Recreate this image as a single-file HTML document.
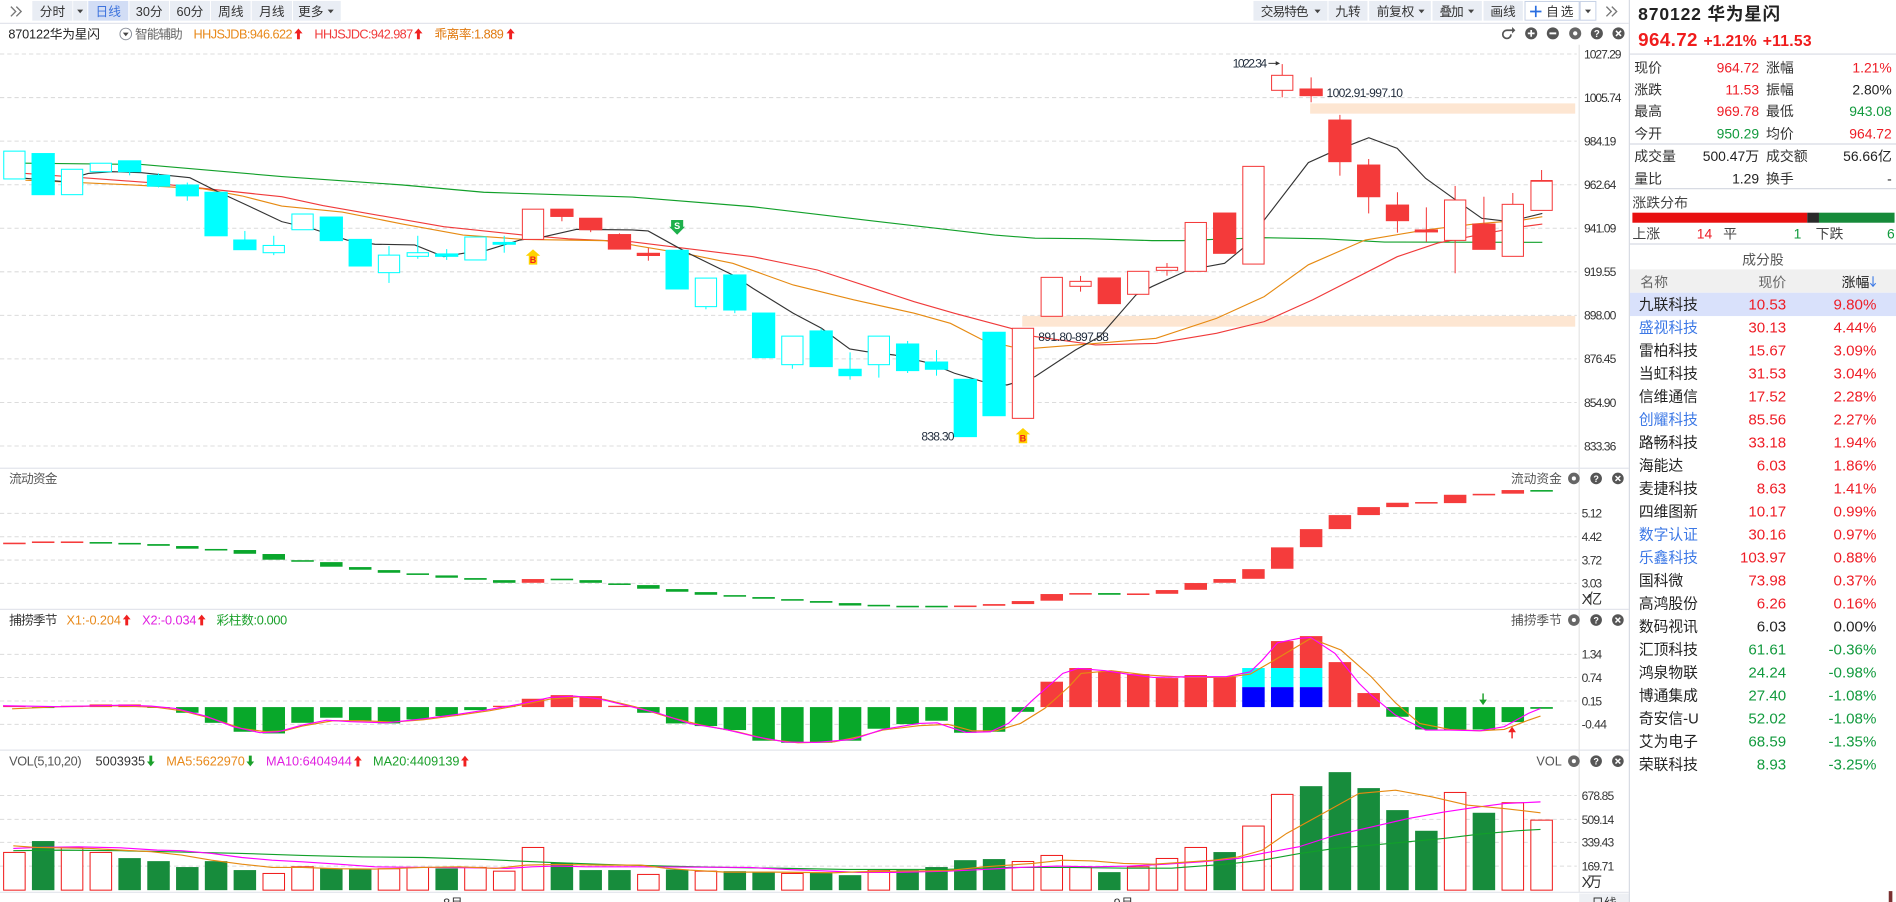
<!DOCTYPE html>
<html><head><meta charset="utf-8">
<style>
html,body{margin:0;padding:0;background:#fff;overflow:hidden;width:1896px;height:902px}
svg{display:block}
text{font-family:"Liberation Sans","Noto Sans CJK SC",sans-serif}
</style></head>
<body>
<svg width="1896" height="902" viewBox="0 0 1568 746" preserveAspectRatio="none" xmlns="http://www.w3.org/2000/svg">
<rect x="0" y="0" width="1568" height="746" fill="#fff"/>

<!-- ===== TOOLBAR ===== -->
<g font-size="10.5" fill="#333" text-anchor="middle">
<polyline points="9,5.5 13,9.5 9,13.5" fill="none" stroke="#777" stroke-width="1.1"/>
<polyline points="13.5,5.5 17.5,9.5 13.5,13.5" fill="none" stroke="#777" stroke-width="1.1"/>
<rect x="26.7" y="0.8" width="33.2" height="16.3" fill="#e9edf4"/>
<text x="43.4" y="13.4">分时</text>
<rect x="60.5" y="0.8" width="11.7" height="16.3" fill="#e9edf4"/>
<polygon points="63.8,8 68.8,8 66.3,11" fill="#444"/>
<rect x="73" y="0.8" width="33.1" height="16.3" fill="#d2ddf5"/>
<text x="89.5" y="13.4" fill="#3d73dd">日线</text>
<rect x="107" y="0.8" width="32.8" height="16.3" fill="#e9edf4"/>
<text x="123.4" y="13.4">30分</text>
<rect x="140.6" y="0.8" width="33.1" height="16.3" fill="#e9edf4"/>
<text x="157.1" y="13.4">60分</text>
<rect x="174.5" y="0.8" width="32.8" height="16.3" fill="#e9edf4"/>
<text x="190.9" y="13.4">周线</text>
<rect x="208.2" y="0.8" width="33.3" height="16.3" fill="#e9edf4"/>
<text x="224.8" y="13.4">月线</text>
<rect x="242.3" y="0.8" width="39.5" height="16.3" fill="#e9edf4"/>
<text x="257" y="13.4">更多</text>
<polygon points="271,8 276,8 273.5,11" fill="#444"/>

<rect x="1036.6" y="0.8" width="61.2" height="16.3" fill="#e9edf4"/>
<text x="1042.7" y="13.4" text-anchor="start" textLength="39.4">交易特色</text>
<polygon points="1087.1,8 1092.1,8 1089.6,11" fill="#444"/>
<rect x="1098.7" y="0.8" width="32.2" height="16.3" fill="#e9edf4"/>
<text x="1114.8" y="13.4">九转</text>
<rect x="1132.3" y="0.8" width="51" height="16.3" fill="#e9edf4"/>
<text x="1138.6" y="13.4" text-anchor="start" textLength="31">前复权</text>
<polygon points="1173.1,8 1178.1,8 1175.6,11" fill="#444"/>
<rect x="1184.7" y="0.8" width="40.8" height="16.3" fill="#e9edf4"/>
<text x="1190.5" y="13.4" text-anchor="start" textLength="20">叠加</text>
<polygon points="1214.1,8 1219.1,8 1216.6,11" fill="#444"/>
<rect x="1226.9" y="0.8" width="32.5" height="16.3" fill="#e9edf4"/>
<text x="1243" y="13.4">画线</text>
<rect x="1261.2" y="1.2" width="44.8" height="15.5" fill="#fff" stroke="#c5d0e5" stroke-width="0.8"/>
<path d="M1270.1 4.8 V14.2 M1265.4 9.5 H1274.8" stroke="#2a6ee0" stroke-width="1.4"/>
<text x="1278.7" y="13.4" text-anchor="start" textLength="22.6">自选</text>
<rect x="1306.8" y="1.2" width="13" height="15.5" fill="#fff" stroke="#c5d0e5" stroke-width="0.8"/>
<polygon points="1310.8,8 1315.8,8 1313.3,11" fill="#444"/>
<polyline points="1328.5,5.5 1332.5,9.5 1328.5,13.5" fill="none" stroke="#777" stroke-width="1.1"/>
<polyline points="1333,5.5 1337,9.5 1333,13.5" fill="none" stroke="#777" stroke-width="1.1"/>
</g>
<line x1="0" y1="19.3" x2="1347" y2="19.3" stroke="#e3e5ec" stroke-width="1"/>

<!-- ===== INFO LINE ===== -->
<g font-size="10.5">
<text x="6.9" y="31.8" fill="#222" textLength="75.8">870122华为星闪</text>
<circle cx="104" cy="28.1" r="4.8" fill="none" stroke="#8a8f99" stroke-width="0.8"/>
<polygon points="101.6,27 106.4,27 104,30" fill="#444"/>
<text x="111.7" y="31.8" fill="#666" textLength="39.4">智能辅助</text>
<text x="160" y="31.8" fill="#e8891a" textLength="82">HHJSJDB:946.622</text>
<polygon points="246.8,23.6 250.2,27.6 248,27.6 248,32.5 245.6,32.5 245.6,27.6 243.4,27.6" fill="#f02020"/>
<text x="260" y="31.8" fill="#f03a3a" textLength="81.7">HHJSJDC:942.987</text>
<polygon points="346,23.6 349.4,27.6 347.2,27.6 347.2,32.5 344.8,32.5 344.8,27.6 342.6,27.6" fill="#f02020"/>
<text x="359.3" y="31.8" fill="#e07a10" textLength="57.4">乖离率:1.889</text>
<polygon points="422.3,23.6 425.7,27.6 423.5,27.6 423.5,32.5 421.1,32.5 421.1,27.6 418.9,27.6" fill="#f02020"/>
</g>

<!-- main icons -->
<g>
<path d="M1250.8 25 H1246.2 A3.4 3.4 0 1 0 1249.6 28.4" fill="none" stroke="#555" stroke-width="1.4"/>
<polygon points="1250.5,22.3 1253.2,25 1250.5,27.7" fill="#555"/>
<circle cx="1266.3" cy="27.6" r="5" fill="#555"/><path d="M1266.3 24.8 V30.4 M1263.5 27.6 H1269.1" stroke="#fff" stroke-width="1.4"/>
<circle cx="1284.2" cy="27.6" r="5" fill="#555"/><path d="M1281.4 27.6 H1287" stroke="#fff" stroke-width="1.6"/>
<circle cx="1302.7" cy="27.6" r="5" fill="#666"/><circle cx="1302.7" cy="27.6" r="1.8" fill="#fff"/>
<circle cx="1320.6" cy="27.6" r="5" fill="#555"/><text x="1320.6" y="30.6" font-size="8" font-weight="bold" fill="#fff" text-anchor="middle">?</text>
<circle cx="1338.5" cy="27.6" r="5" fill="#555"/><path d="M1336.4 25.5 L1340.6 29.7 M1340.6 25.5 L1336.4 29.7" stroke="#fff" stroke-width="1.3"/>
</g>

<!-- ===== MAIN GRID ===== -->
<g stroke="#dcdcdc" stroke-width="0.85" stroke-dasharray="3.5 2.5">
<line x1="0" y1="44.7" x2="1304" y2="44.7"/>
<line x1="0" y1="80.7" x2="1304" y2="80.7"/>
<line x1="0" y1="116.7" x2="1304" y2="116.7"/>
<line x1="0" y1="152.8" x2="1304" y2="152.8"/>
<line x1="0" y1="188.8" x2="1304" y2="188.8"/>
<line x1="0" y1="224.8" x2="1304" y2="224.8"/>
<line x1="0" y1="260.8" x2="1304" y2="260.8"/>
<line x1="0" y1="296.8" x2="1304" y2="296.8"/>
<line x1="0" y1="332.9" x2="1304" y2="332.9"/>
<line x1="0" y1="368.9" x2="1304" y2="368.9"/>
<line x1="0" y1="424.6" x2="1304" y2="424.6"/>
<line x1="0" y1="443.9" x2="1304" y2="443.9"/>
<line x1="0" y1="463.2" x2="1304" y2="463.2"/>
<line x1="0" y1="482.5" x2="1304" y2="482.5"/>
<line x1="0" y1="541.2" x2="1304" y2="541.2"/>
<line x1="0" y1="560.3" x2="1304" y2="560.3"/>
<line x1="0" y1="579.8" x2="1304" y2="579.8"/>
<line x1="0" y1="599.1" x2="1304" y2="599.1"/>
<line x1="0" y1="657.9" x2="1304" y2="657.9"/>
<line x1="0" y1="677.7" x2="1304" y2="677.7"/>
<line x1="0" y1="696.7" x2="1304" y2="696.7"/>
<line x1="0" y1="716.3" x2="1304" y2="716.3"/>
</g>

<!-- price axis -->
<line x1="1306" y1="37" x2="1306" y2="738" stroke="#e2e2e2" stroke-width="0.9"/>
<g font-size="10" fill="#333">
<text x="1310" y="48.3" textLength="31">1027.29</text>
<text x="1310" y="84.3" textLength="31">1005.74</text>
<text x="1310" y="120.3" textLength="26.7">984.19</text>
<text x="1310" y="156.4" textLength="26.7">962.64</text>
<text x="1310" y="192.4" textLength="26.7">941.09</text>
<text x="1310" y="228.4" textLength="26.7">919.55</text>
<text x="1310" y="264.4" textLength="26.7">898.00</text>
<text x="1310" y="300.4" textLength="26.7">876.45</text>
<text x="1310" y="336.5" textLength="26.7">854.90</text>
<text x="1310" y="372.5" textLength="26.7">833.36</text>
<text x="1308" y="428.2" textLength="17">5.12</text>
<text x="1308" y="447.5" textLength="17">4.42</text>
<text x="1308" y="466.8" textLength="17">3.72</text>
<text x="1308" y="486.1" textLength="17">3.03</text>
<text x="1308" y="499.5" font-size="12" textLength="17">X亿</text>
<text x="1308" y="544.8" textLength="17">1.34</text>
<text x="1308" y="563.9" textLength="17">0.74</text>
<text x="1308" y="583.4" textLength="17">0.15</text>
<text x="1308" y="602.7" textLength="21">-0.44</text>
<text x="1308" y="661.5" textLength="27">678.85</text>
<text x="1308" y="681.3" textLength="27">509.14</text>
<text x="1308" y="700.3" textLength="27">339.43</text>
<text x="1308" y="719.9" textLength="27">169.71</text>
<text x="1308" y="733.8" font-size="12" textLength="17">X万</text>
</g>

<!-- bands -->
<rect x="1083.5" y="85.5" width="219.2" height="8.5" fill="#fde6d2"/>
<rect x="845.4" y="261.3" width="457.3" height="8.9" fill="#fde6d2"/>

<!-- MA lines -->
<g fill="none" stroke-width="0.95">
<polyline stroke="#12a02a" points="21,135 117,136 233,146 333,153 400,159 523,163 622.7,171 722.7,182.8 822.7,194.4 856,197 899,197.4 952.7,199 977.7,199 1002.7,198 1045,196.6 1095,197.5 1145,200.2 1275.5,200.4"/>
<polyline stroke="#f03a3a" points="21,143.4 123,151 233,162.7 267,170 367,187.5 433,194.4 470,197.5 523,200 622.7,212.3 676,223.3 756,249.5 789.4,259.1 836,271.5 856,278.4 906,285.3 956,284 1006,275.7 1045.5,266 1085.5,248 1155.5,212.3 1189,201 1229,193 1259,187.5 1275.5,185.3"/>
<polyline stroke="#e68a12" points="21,149 100,152.5 167,156 200,162 233,170.4 283,175.4 333,185.3 383,194.4 433,198 500,199 523,202.6 572.7,210.9 606,217.8 656,235.7 706,248 756,259 786,267.4 812.7,281.2 836,286.7 856,288 906,284 956,279.8 1006,263.3 1045.5,245.3 1082,219 1129,198.5 1179,190.2 1219,185.3 1259,182 1275.5,179.2"/>
<polyline stroke="#333" points="21,147.5 50,150 73,143.4 93,142 117,142.8 157,147 180,158.5 207,171 233,183.3 260,189.7 287,198.5 310,202 343,202.6 367,212.3 383,209.5 403,206.8 430,198.5 450,195.8 477,189.7 523,190.2 536,191 569.4,209.5 606,227.4 622.7,238.5 656,259.1 679.4,271.5 702.7,288.6 716,290.8 739.4,293.6 769.4,300.5 789.4,308.7 812.7,315.6 832.7,318.4 856,311.5 889.4,289.5 909.4,278.4 939.4,244 952.7,237 982.7,223.3 1012.7,217.8 1029.4,204 1045.5,182 1082,134.5 1099,126.8 1132,113.9 1155.5,122.7 1179,147.5 1202,164 1225.5,180.6 1242,182.5 1259,180.6 1275.5,176.5"/>
</g>

<!-- candles filled cyan -->
<g fill="#00ffff" stroke="#00ffff" stroke-width="0.85">
<rect x="26.5" y="127" width="18.4" height="34"/>
<line x1="107.2" y1="133" x2="107.2" y2="145"/><rect x="98.0" y="133" width="18.4" height="9"/>
<line x1="131.1" y1="143.4" x2="131.1" y2="155"/><rect x="121.9" y="145" width="18.4" height="9"/>
<line x1="154.9" y1="151" x2="154.9" y2="166"/><rect x="145.7" y="153" width="18.4" height="9"/>
<rect x="169.5" y="159" width="18.4" height="36"/>
<line x1="202.5" y1="191" x2="202.5" y2="206.5"/><rect x="193.3" y="198.5" width="18.4" height="8"/>
<rect x="264.8" y="179.5" width="18.4" height="19.5"/>
<rect x="288.7" y="198" width="18.4" height="22"/>
<line x1="369.4" y1="206" x2="369.4" y2="215"/><rect x="360.2" y="210" width="18.4" height="2"/>
<line x1="417.0" y1="195" x2="417.0" y2="209"/><rect x="407.8" y="200.5" width="18.4" height="1.5"/>
<rect x="550.8" y="207" width="18.4" height="32"/>
<line x1="607.7" y1="227.4" x2="607.7" y2="259"/><rect x="598.5" y="227.4" width="18.4" height="29"/>
<rect x="622.3" y="258.9" width="18.4" height="36.9"/>
<line x1="679.1" y1="271.8" x2="679.1" y2="303.2"/><rect x="669.9" y="273.7" width="18.4" height="29.5"/>
<line x1="703.0" y1="291.4" x2="703.0" y2="314"/><rect x="693.8" y="305.4" width="18.4" height="5.3"/>
<line x1="750.6" y1="282" x2="750.6" y2="308.5"/><rect x="741.4" y="284.5" width="18.4" height="22"/>
<line x1="774.5" y1="289.5" x2="774.5" y2="310.7"/><rect x="765.3" y="299.4" width="18.4" height="6"/>
<rect x="789.1" y="313.7" width="18.4" height="47.4"/>
<rect x="812.9" y="274.8" width="18.4" height="69"/>
</g>
<!-- candles hollow cyan -->
<g fill="#fff" stroke="#00ffff" stroke-width="0.85">
<rect x="3.1" y="125" width="17.6" height="23"/>
<rect x="50.8" y="140" width="17.6" height="21"/>
<rect x="74.6" y="135" width="17.6" height="7"/>
<line x1="226.4" y1="195" x2="226.4" y2="211"/><rect x="217.6" y="203" width="17.6" height="6"/>
<rect x="241.4" y="177" width="17.6" height="13"/>
<line x1="321.7" y1="203.5" x2="321.7" y2="234"/><rect x="312.9" y="211" width="17.6" height="14.5"/>
<line x1="345.5" y1="195" x2="345.5" y2="214"/><rect x="336.7" y="209" width="17.6" height="3"/>
<rect x="384.4" y="196" width="17.6" height="19"/>
<line x1="583.8" y1="230" x2="583.8" y2="255.8"/><rect x="575.0" y="230" width="17.6" height="23.6"/>
<line x1="655.3" y1="278" x2="655.3" y2="305"/><rect x="646.5" y="278" width="17.6" height="23.6"/>
<line x1="726.8" y1="278" x2="726.8" y2="312.3"/><rect x="718.0" y="278" width="17.6" height="23.6"/>
</g>
<!-- candles filled red -->
<g fill="#f43a3a" stroke="#f43a3a" stroke-width="0.85">
<line x1="464.7" y1="173" x2="464.7" y2="183"/><rect x="455.5" y="173" width="18.4" height="6"/>
<line x1="488.5" y1="180.5" x2="488.5" y2="192"/><rect x="479.3" y="180.5" width="18.4" height="9.5"/>
<line x1="512.3" y1="193" x2="512.3" y2="206"/><rect x="503.1" y="194" width="18.4" height="12"/>
<line x1="536.2" y1="205" x2="536.2" y2="215.6"/><rect x="527.0" y="209.5" width="18.4" height="1.8"/>
<rect x="908.2" y="229.9" width="18.4" height="21.2"/>
<rect x="1003.6" y="176.2" width="18.4" height="33.3"/>
<line x1="1084.3" y1="64" x2="1084.3" y2="84.6"/><rect x="1075.1" y="73.6" width="18.4" height="5.5"/>
<line x1="1108.1" y1="95" x2="1108.1" y2="145.3"/><rect x="1098.9" y="99.3" width="18.4" height="34.4"/>
<line x1="1131.9" y1="131.5" x2="1131.9" y2="176.5"/><rect x="1122.7" y="136.5" width="18.4" height="26.2"/>
<line x1="1155.7" y1="159" x2="1155.7" y2="192.4"/><rect x="1146.5" y="169.6" width="18.4" height="12.9"/>
<line x1="1179.6" y1="171.5" x2="1179.6" y2="200"/><rect x="1170.4" y="190.2" width="18.4" height="1.6"/>
<line x1="1227.2" y1="162.7" x2="1227.2" y2="206.2"/><rect x="1218.0" y="185.3" width="18.4" height="20.9"/>
</g>
<!-- candles hollow red -->
<g fill="#fff" stroke="#f43a3a" stroke-width="0.85">
<rect x="432.0" y="173" width="17.6" height="25"/>
<rect x="837.2" y="271.5" width="17.6" height="74.5"/>
<rect x="861.0" y="229.4" width="17.6" height="32.2"/>
<line x1="893.6" y1="228.2" x2="893.6" y2="241.2"/><rect x="884.8" y="232.7" width="17.6" height="4.1"/>
<rect x="932.5" y="224.4" width="17.6" height="19"/>
<line x1="965.1" y1="217.5" x2="965.1" y2="228"/><rect x="956.3" y="221.1" width="17.6" height="2.5"/>
<rect x="980.1" y="184" width="17.6" height="40.4"/>
<rect x="1027.8" y="137.6" width="17.6" height="80.8"/>
<line x1="1060.4" y1="53" x2="1060.4" y2="80.5"/><rect x="1051.6" y="62.3" width="17.6" height="12.4"/>
<line x1="1203.4" y1="153.8" x2="1203.4" y2="226"/><rect x="1194.6" y="165.4" width="17.6" height="33.4"/>
<line x1="1251.1" y1="159.6" x2="1251.1" y2="212"/><rect x="1242.3" y="169" width="17.6" height="43"/>
<line x1="1274.9" y1="140.6" x2="1274.9" y2="174"/><rect x="1266.1" y="149.4" width="17.6" height="24.6"/>
</g>
<line x1="1266.1" y1="149.6" x2="1283.7" y2="149.6" stroke="#f43a3a" stroke-width="1.4"/>

<!-- markers -->
<polygon points="440.8,206.2 446.8,211.5 444.3,211.5 444.3,218.9 437.3,218.9 437.3,211.5 434.8,211.5" fill="#ffd200"/>
<text x="440.8" y="217.6" font-size="7.5" font-weight="bold" fill="#f02020" text-anchor="middle">B</text>
<polygon points="846,354 852,359.3 849.5,359.3 849.5,366.6 842.5,366.6 842.5,359.3 840,359.3" fill="#ffd200"/>
<text x="846" y="365.3" font-size="7.5" font-weight="bold" fill="#f02020" text-anchor="middle">B</text>
<polygon points="555,182 565,182 565,187.5 566.5,187.5 560,194.2 553.5,187.5 555,187.5" fill="#1db04b"/>
<text x="560" y="189.6" font-size="7.5" font-weight="bold" fill="#fff" text-anchor="middle">S</text>

<!-- annotations -->
<g font-size="10" fill="#1e2a3a">
<text x="1019.4" y="56" textLength="28.5">1022.34</text>
<text x="1097" y="80.4" textLength="63.3">1002.91-997.10</text>
<text x="762" y="364.2" textLength="27.4">838.30</text>
<text x="858.7" y="282" textLength="58.3">891.80-897.58</text>
</g>
<line x1="1049" y1="52.4" x2="1056" y2="52.4" stroke="#333" stroke-width="0.8"/>
<polygon points="1055,50.6 1058.6,52.4 1055,54.2" fill="#333"/>

<!-- panel separators -->
<g stroke="#e3e5ec" stroke-width="1">
<line x1="0" y1="387.3" x2="1347" y2="387.3"/>
<line x1="0" y1="504" x2="1347" y2="504"/>
<line x1="0" y1="620.4" x2="1347" y2="620.4"/>
<line x1="0" y1="738" x2="1347" y2="738"/>
</g>

<!-- ===== 流动资金 ===== -->
<text x="7.5" y="399.5" font-size="10.5" fill="#555" textLength="40">流动资金</text>
<g fill="#0aa62c">
<rect x="74.1" y="448.3" width="18.6" height="1.3"/>
<rect x="97.9" y="449" width="18.6" height="1.3"/>
<rect x="121.8" y="450" width="18.6" height="1.4"/>
<rect x="145.6" y="451.6" width="18.6" height="2.2"/>
<rect x="169.4" y="454" width="18.6" height="1.3"/>
<rect x="193.2" y="454.9" width="18.6" height="3.1"/>
<rect x="217.1" y="458.2" width="18.6" height="4.7"/>
<rect x="240.9" y="463.3" width="18.6" height="1.3"/>
<rect x="264.7" y="464.9" width="18.6" height="3.8"/>
<rect x="288.6" y="469" width="18.6" height="2.2"/>
<rect x="312.4" y="471.5" width="18.6" height="2.2"/>
<rect x="336.2" y="474.2" width="18.6" height="1.3"/>
<rect x="360.1" y="475.9" width="18.6" height="1.9"/>
<rect x="383.9" y="478.1" width="18.6" height="1.4"/>
<rect x="407.7" y="479.8" width="18.6" height="2.2"/>
<rect x="455.4" y="478.6" width="18.6" height="1.3"/>
<rect x="479.2" y="479.8" width="18.6" height="2.2"/>
<rect x="503.0" y="482.5" width="18.6" height="1.3"/>
<rect x="526.9" y="483.9" width="18.6" height="3"/>
<rect x="550.7" y="487.2" width="18.6" height="2.2"/>
<rect x="574.5" y="489.7" width="18.6" height="2.2"/>
<rect x="598.4" y="492.2" width="18.6" height="1.3"/>
<rect x="622.2" y="493.8" width="18.6" height="1.4"/>
<rect x="646.0" y="495.5" width="18.6" height="1.3"/>
<rect x="669.8" y="497.1" width="18.6" height="1.4"/>
<rect x="693.7" y="498.8" width="18.6" height="2"/>
<rect x="717.5" y="500.2" width="18.6" height="1.3"/>
<rect x="741.3" y="501" width="18.6" height="1.3"/>
<rect x="765.2" y="501" width="18.6" height="1.3"/>
<rect x="908.1" y="490.5" width="18.6" height="1.4"/>
<rect x="1265.6" y="405.3" width="18.6" height="1.3"/>
</g>
<g fill="#f53c3c">
<rect x="2.6" y="448.8" width="18.6" height="1.3"/>
<rect x="26.4" y="447.8" width="18.6" height="1.3"/>
<rect x="50.3" y="447.8" width="18.6" height="1.3"/>
<rect x="431.5" y="478.9" width="18.6" height="3.1"/>
<rect x="789.0" y="500.8" width="18.6" height="1.3"/>
<rect x="812.8" y="499.6" width="18.6" height="1.4"/>
<rect x="836.7" y="497.1" width="18.6" height="2.5"/>
<rect x="860.5" y="491.3" width="18.6" height="5.5"/>
<rect x="884.3" y="490.5" width="18.6" height="1.3"/>
<rect x="932.0" y="490.8" width="18.6" height="1.3"/>
<rect x="955.8" y="488" width="18.6" height="3.1"/>
<rect x="979.6" y="482.2" width="18.6" height="5.6"/>
<rect x="1003.5" y="478.9" width="18.6" height="3.1"/>
<rect x="1027.3" y="470.7" width="18.6" height="8"/>
<rect x="1051.1" y="452.7" width="18.6" height="17.7"/>
<rect x="1075.0" y="437.6" width="18.6" height="14.9"/>
<rect x="1098.8" y="426" width="18.6" height="11.6"/>
<rect x="1122.6" y="419.4" width="18.6" height="6.6"/>
<rect x="1146.4" y="415.8" width="18.6" height="3.6"/>
<rect x="1170.3" y="415.2" width="18.6" height="1.3"/>
<rect x="1194.1" y="409.2" width="18.6" height="6.9"/>
<rect x="1217.9" y="408.4" width="18.6" height="1.3"/>
<rect x="1241.8" y="405.3" width="18.6" height="3"/>
</g>

<!-- ===== 捕捞季节 ===== -->
<g font-size="10.5">
<text x="7.5" y="516.6" fill="#333" textLength="40">捕捞季节</text>
<text x="55" y="516.6" fill="#e8891a" textLength="45">X1:-0.204</text>
<polygon points="104.8,508.3 108,512.3 106,512.3 106,517.2 103.6,517.2 103.6,512.3 101.6,512.3" fill="#f02020"/>
<text x="117.5" y="516.6" fill="#e020e0" textLength="45">X2:-0.034</text>
<polygon points="166.8,508.3 170,512.3 168,512.3 168,517.2 165.6,517.2 165.6,512.3 163.6,512.3" fill="#f02020"/>
<text x="179" y="516.6" fill="#1aa02a" textLength="58.5">彩柱数:0.000</text>
</g>
<g fill="#08a82a">
<rect x="26.4" y="584.8" width="18.6" height="0.8"/>
<rect x="121.8" y="584.8" width="18.6" height="0.7"/>
<rect x="145.6" y="584.8" width="18.6" height="4.7"/>
<rect x="169.4" y="584.8" width="18.6" height="13"/>
<rect x="193.2" y="584.8" width="18.6" height="20.4"/>
<rect x="217.1" y="584.8" width="18.6" height="21.8"/>
<rect x="240.9" y="584.8" width="18.6" height="13"/>
<rect x="264.7" y="584.8" width="18.6" height="8.8"/>
<rect x="288.6" y="584.8" width="18.6" height="11.3"/>
<rect x="312.4" y="584.8" width="18.6" height="13.5"/>
<rect x="336.2" y="584.8" width="18.6" height="10.2"/>
<rect x="360.1" y="584.8" width="18.6" height="7.4"/>
<rect x="383.9" y="584.8" width="18.6" height="2.5"/>
<rect x="526.9" y="584.8" width="18.6" height="4.7"/>
<rect x="550.7" y="584.8" width="18.6" height="13.5"/>
<rect x="574.5" y="584.8" width="18.6" height="15.7"/>
<rect x="598.4" y="584.8" width="18.6" height="19"/>
<rect x="622.2" y="584.8" width="18.6" height="27.8"/>
<rect x="646.0" y="584.8" width="18.6" height="29.5"/>
<rect x="669.8" y="584.8" width="18.6" height="29.5"/>
<rect x="693.7" y="584.8" width="18.6" height="27.8"/>
<rect x="717.5" y="584.8" width="18.6" height="17.9"/>
<rect x="741.3" y="584.8" width="18.6" height="14.1"/>
<rect x="765.2" y="584.8" width="18.6" height="11.3"/>
<rect x="789.0" y="584.8" width="18.6" height="21.2"/>
<rect x="812.8" y="584.8" width="18.6" height="20.4"/>
<rect x="836.7" y="584.8" width="18.6" height="3.9"/>
<rect x="1146.4" y="584.8" width="18.6" height="8"/>
<rect x="1170.3" y="584.8" width="18.6" height="18.5"/>
<rect x="1194.1" y="584.8" width="18.6" height="18.5"/>
<rect x="1217.9" y="584.8" width="18.6" height="18.5"/>
<rect x="1241.8" y="584.8" width="18.6" height="12.4"/>
<rect x="1265.6" y="584.8" width="18.6" height="1.4"/>
</g>
<g fill="#f53c3c">
<rect x="2.6" y="583.7" width="18.6" height="1.1"/>
<rect x="50.3" y="583.7" width="18.6" height="1.1"/>
<rect x="74.1" y="582.6" width="18.6" height="2.2"/>
<rect x="97.9" y="582.6" width="18.6" height="2.2"/>
<rect x="407.7" y="583.7" width="18.6" height="1.1"/>
<rect x="431.5" y="577.9" width="18.6" height="6.9"/>
<rect x="455.4" y="574.9" width="18.6" height="9.9"/>
<rect x="479.2" y="575.7" width="18.6" height="9.1"/>
<rect x="503.0" y="583.7" width="18.6" height="1.1"/>
<rect x="860.5" y="563.8" width="18.6" height="21"/>
<rect x="884.3" y="552.5" width="18.6" height="32.3"/>
<rect x="908.1" y="555.3" width="18.6" height="29.5"/>
<rect x="932.0" y="557.5" width="18.6" height="27.3"/>
<rect x="955.8" y="560.8" width="18.6" height="24"/>
<rect x="979.6" y="558.3" width="18.6" height="26.5"/>
<rect x="1003.5" y="559.7" width="18.6" height="25.1"/>
<rect x="1051.1" y="530.2" width="18.6" height="22.3"/>
<rect x="1075.0" y="526.1" width="18.6" height="26.4"/>
<rect x="1098.8" y="547.6" width="18.6" height="37.2"/>
<rect x="1122.6" y="573.2" width="18.6" height="11.6"/>
</g>
<g fill="#00ffff">
<rect x="1027.3" y="552.5" width="18.6" height="15.8"/>
<rect x="1051.1" y="552.5" width="18.6" height="15.8"/>
<rect x="1075.0" y="552.5" width="18.6" height="15.8"/>
</g>
<g fill="#0000ff">
<rect x="1027.3" y="568.3" width="18.6" height="16.5"/>
<rect x="1051.1" y="568.3" width="18.6" height="16.5"/>
<rect x="1075.0" y="568.3" width="18.6" height="16.5"/>
</g>
<g fill="none" stroke-width="0.95">
<polyline stroke="#e68a12" points="10,586.2 50,584.5 100,583.7 130,585.1 150,587.8 175,594.2 200,602.5 220,605.2 235,604.4 250,600.5 275,596.1 300,596.1 325,597.2 350,595.3 380,591.4 405,587.8 430,583.2 455,578.2 480,576.3 500,578.5 525,584.5 550,592.2 580,599.7 610,605.2 635,611.5 660,614.3 690,613.5 710,609.3 730,603.8 760,600.2 784,599.1 804,604.4 824,604.4 844,598.3 864,585.9 884,568 894,557 919,554.7 949,558.3 984,560.3 1014,560.3 1034,557.5 1054,545.9 1084,528 1109,537.6 1134,559.7 1154,581.2 1174,598.3 1199,603.3 1224,604.4 1244,603.3 1264,595.6 1274,592.2"/>
<polyline stroke="#ff00ff" points="2.5,583.7 50,584.5 100,583.2 125,584 145,585.9 170,592.2 193,601 215,606 230,605.2 250,599.7 270,595.6 290,596.9 320,597.8 350,594.5 380,590.6 405,586.7 430,582.3 455,576.8 475,575.7 495,577.9 520,584 545,590 570,598.3 600,603.3 625,609.3 650,613.7 675,614 705,611.5 730,603.3 760,598.3 775,597.8 784,601 799,605.8 819,605.2 834,598.3 854,579 879,556.9 891.5,552.8 914,554.7 934,557.8 954,560.3 984,559.7 1014,559.7 1034,555.6 1044,545.9 1056.5,531.6 1074,528 1084,527.2 1104,540.4 1124,565.2 1134,574.9 1154,591.4 1179,603.8 1199,603.8 1224,604.4 1244,601 1264,590 1274,585.9"/>
</g>
<line x1="1226.5" y1="573.5" x2="1226.5" y2="580" stroke="#1aa02a" stroke-width="1.2"/>
<polygon points="1223.3,578.6 1229.7,578.6 1226.5,583.2" fill="#1aa02a"/>
<line x1="1250.5" y1="604.5" x2="1250.5" y2="610.7" stroke="#f02020" stroke-width="1.2"/>
<polygon points="1247.3,605.6 1253.7,605.6 1250.5,601" fill="#f02020"/>

<!-- ===== VOL ===== -->
<g font-size="10.5">
<text x="7.5" y="633.3" fill="#555" textLength="60">VOL(5,10,20)</text>
<text x="79" y="633.3" fill="#333" textLength="41">5003935</text>
<polygon points="124.7,633.8 127.9,629.8 125.9,629.8 125.9,624.9 123.5,624.9 123.5,629.8 121.5,629.8" fill="#1aa02a"/>
<text x="137.5" y="633.3" fill="#e8891a" textLength="65">MA5:5622970</text>
<polygon points="207,633.8 210.2,629.8 208.2,629.8 208.2,624.9 205.8,624.9 205.8,629.8 203.8,629.8" fill="#1aa02a"/>
<text x="220" y="633.3" fill="#e020e0" textLength="71">MA10:6404944</text>
<polygon points="296,625 299.2,629 297.2,629 297.2,633.9 294.8,633.9 294.8,629 292.8,629" fill="#f02020"/>
<text x="308.5" y="633.3" fill="#1aa02a" textLength="71.5">MA20:4409139</text>
<polygon points="384.5,625 387.7,629 385.7,629 385.7,633.9 383.3,633.9 383.3,629 381.3,629" fill="#f02020"/>
</g>
<g fill="#178c3c">
<rect x="26.4" y="695.6" width="18.6" height="40.6"/>
<rect x="97.9" y="709.7" width="18.6" height="26.5"/>
<rect x="121.8" y="712.2" width="18.6" height="24"/>
<rect x="145.6" y="717.1" width="18.6" height="19.1"/>
<rect x="169.4" y="712.2" width="18.6" height="24"/>
<rect x="193.2" y="719.6" width="18.6" height="16.6"/>
<rect x="264.7" y="718.2" width="18.6" height="18"/>
<rect x="288.6" y="719.1" width="18.6" height="17.1"/>
<rect x="360.1" y="718.2" width="18.6" height="18"/>
<rect x="455.4" y="713.6" width="18.6" height="22.6"/>
<rect x="479.2" y="719.6" width="18.6" height="16.6"/>
<rect x="503.0" y="719.6" width="18.6" height="16.6"/>
<rect x="550.7" y="719.1" width="18.6" height="17.1"/>
<rect x="598.4" y="720.5" width="18.6" height="15.7"/>
<rect x="622.2" y="721" width="18.6" height="15.2"/>
<rect x="669.8" y="721.5" width="18.6" height="14.7"/>
<rect x="693.7" y="723.8" width="18.6" height="12.4"/>
<rect x="741.3" y="719.6" width="18.6" height="16.6"/>
<rect x="765.2" y="717.1" width="18.6" height="19.1"/>
<rect x="789.0" y="711.4" width="18.6" height="24.8"/>
<rect x="812.8" y="710.5" width="18.6" height="25.7"/>
<rect x="908.1" y="721.3" width="18.6" height="14.9"/>
<rect x="1003.5" y="704.7" width="18.6" height="31.5"/>
<rect x="1075.0" y="650.2" width="18.6" height="86"/>
<rect x="1098.8" y="638.6" width="18.6" height="97.6"/>
<rect x="1122.6" y="651.8" width="18.6" height="84.4"/>
<rect x="1146.4" y="670" width="18.6" height="66.2"/>
<rect x="1170.3" y="687.1" width="18.6" height="49.1"/>
<rect x="1217.9" y="672.2" width="18.6" height="64"/>
</g>
<g fill="#fff" stroke="#f01c1c" stroke-width="0.85">
<rect x="3.0" y="705" width="17.8" height="31.2"/>
<rect x="50.7" y="700.9" width="17.8" height="35.3"/>
<rect x="74.5" y="705" width="17.8" height="31.2"/>
<rect x="217.5" y="722.4" width="17.8" height="13.8"/>
<rect x="241.3" y="716.9" width="17.8" height="19.3"/>
<rect x="312.8" y="718.5" width="17.8" height="17.7"/>
<rect x="336.6" y="717.4" width="17.8" height="18.8"/>
<rect x="384.3" y="717.4" width="17.8" height="18.8"/>
<rect x="408.1" y="720.5" width="17.8" height="15.7"/>
<rect x="431.9" y="700.9" width="17.8" height="35.3"/>
<rect x="527.3" y="723.2" width="17.8" height="13"/>
<rect x="574.9" y="720.5" width="17.8" height="15.7"/>
<rect x="646.4" y="722.4" width="17.8" height="13.8"/>
<rect x="717.9" y="719.6" width="17.8" height="16.6"/>
<rect x="837.1" y="712.5" width="17.8" height="23.7"/>
<rect x="860.9" y="707.5" width="17.8" height="28.7"/>
<rect x="884.7" y="716.9" width="17.8" height="19.3"/>
<rect x="932.4" y="716.9" width="17.8" height="19.3"/>
<rect x="956.2" y="710" width="17.8" height="26.2"/>
<rect x="980.0" y="700.9" width="17.8" height="35.3"/>
<rect x="1027.7" y="683.2" width="17.8" height="53"/>
<rect x="1051.5" y="657" width="17.8" height="79.2"/>
<rect x="1194.5" y="655.4" width="17.8" height="80.8"/>
<rect x="1242.2" y="663.9" width="17.8" height="72.3"/>
<rect x="1266.0" y="678.3" width="17.8" height="57.9"/>
</g>
<g fill="none" stroke-width="0.95">
<polyline stroke="#12a02a" points="11,703.6 50,703.1 100,703.6 150,704.7 200,705.8 250,707.5 300,708.7 350,709.2 400,710.8 450,713.1 500,714.9 550,716.3 600,717.4 650,718.2 700,719.1 784,719 834,717.4 884,717.4 934,718 969,718 984,716.9 1014,714.7 1044,711.4 1074,706 1104,701.7 1134,699 1164,696.2 1194,693.4 1224,689.8 1254,687.1 1274,686"/>
<polyline stroke="#ff00ff" points="11,701.7 30,700.9 65,700.4 100,701.2 130,703.1 150,703.6 175,705.8 200,709.2 225,711.4 250,712.8 280,714.7 310,716.9 350,717.4 390,717.7 420,718.2 440,716.9 460,716.3 485,716.9 520,716.9 620,717.4 650,719.1 680,720.2 710,721.5 740,721.5 784,720.5 814,719.1 844,717.4 874,716.3 904,716.9 934,716.3 964,714.7 994,712.8 1024,710 1044,705.8 1074,700.4 1104,690.8 1134,684 1164,677.1 1194,671.6 1219,667.9 1244,664.6 1274,663.2"/>
<polyline stroke="#e68a12" points="11,699.5 30,700.9 75,701.7 100,703.1 125,704.4 150,707.2 175,711.4 200,714.7 225,717.4 250,717.4 280,718.5 310,718.8 350,717.4 380,716.9 410,718.2 435,715.5 460,714.9 500,715.5 530,715.5 550,718 570,719.6 600,721.3 640,721.3 690,721.8 710,721 740,720.5 784,720 814,716.9 854,714.1 879,711.4 904,712 929,714.1 954,714.7 984,712.8 1004,711.4 1024,708.7 1044,703.1 1064,689.3 1094,672.8 1124,656.2 1154,653.5 1184,659 1214,665.9 1244,668.7 1274,672.2"/>
</g>

<!-- lower panel right headers -->
<g font-size="10.5" fill="#555" text-anchor="end">
<text x="1291.6" y="399.5">流动资金</text>
<text x="1291.6" y="516.6">捕捞季节</text>
<text x="1291.6" y="633.3">VOL</text>
</g>
<g>
<circle cx="1301.6" cy="395.7" r="4.8" fill="#666"/><circle cx="1301.6" cy="395.7" r="1.7" fill="#fff"/>
<circle cx="1320" cy="395.7" r="4.8" fill="#555"/><text x="1320" y="398.6" font-size="7.5" font-weight="bold" fill="#fff" text-anchor="middle">?</text>
<circle cx="1338" cy="395.7" r="4.8" fill="#555"/><path d="M1336 393.7 L1340 397.7 M1340 393.7 L1336 397.7" stroke="#fff" stroke-width="1.2"/>
<circle cx="1301.6" cy="512.8" r="4.8" fill="#666"/><circle cx="1301.6" cy="512.8" r="1.7" fill="#fff"/>
<circle cx="1320" cy="512.8" r="4.8" fill="#555"/><text x="1320" y="515.7" font-size="7.5" font-weight="bold" fill="#fff" text-anchor="middle">?</text>
<circle cx="1338" cy="512.8" r="4.8" fill="#555"/><path d="M1336 510.8 L1340 514.8 M1340 510.8 L1336 514.8" stroke="#fff" stroke-width="1.2"/>
<circle cx="1301.6" cy="629.5" r="4.8" fill="#666"/><circle cx="1301.6" cy="629.5" r="1.7" fill="#fff"/>
<circle cx="1320" cy="629.5" r="4.8" fill="#555"/><text x="1320" y="632.4" font-size="7.5" font-weight="bold" fill="#fff" text-anchor="middle">?</text>
<circle cx="1338" cy="629.5" r="4.8" fill="#555"/><path d="M1336 627.5 L1340 631.5 M1340 627.5 L1336 631.5" stroke="#fff" stroke-width="1.2"/>
</g>

<!-- bottom axis -->
<g font-size="10.5" fill="#333">
<text x="366.5" y="750.5">8月</text>
<text x="921" y="750.5">9月</text>
</g>
<rect x="1306" y="739" width="41.5" height="7" fill="#eef0f4"/>
<text x="1326.6" y="750.5" font-size="10.5" fill="#333" text-anchor="middle">日线</text>
<rect x="1562" y="737" width="3" height="9" fill="#7a3030"/>

<!-- ===== RIGHT PANEL ===== -->
<line x1="1347.5" y1="0" x2="1347.5" y2="746" stroke="#d8dbe3" stroke-width="1"/>
<text x="1354.8" y="16.6" font-size="14.5" font-weight="bold" fill="#222" textLength="117.4">870122 华为星闪</text>
<text x="1354.8" y="38" font-size="15.5" font-weight="bold" fill="#f01c1c" textLength="49">964.72</text>
<text x="1408.8" y="38" font-size="13" font-weight="bold" fill="#f01c1c" textLength="44">+1.21%</text>
<text x="1457.8" y="38" font-size="13" font-weight="bold" fill="#f01c1c" textLength="40.4">+11.53</text>
<g stroke="#d8dbe3" stroke-width="1">
<line x1="1347.5" y1="44.7" x2="1568" y2="44.7"/>
<line x1="1347.5" y1="119.1" x2="1568" y2="119.1"/>
<line x1="1347.5" y1="156" x2="1568" y2="156"/>
<line x1="1347.5" y1="201.8" x2="1568" y2="201.8"/>
</g>
<g font-size="11.5" fill="#333">
<text x="1351.5" y="59.8">现价</text>
<text x="1460.5" y="59.8">涨幅</text>
<text x="1351.5" y="78">涨跌</text>
<text x="1460.5" y="78">振幅</text>
<text x="1351.5" y="96">最高</text>
<text x="1460.5" y="96">最低</text>
<text x="1351.5" y="114.4">今开</text>
<text x="1460.5" y="114.4">均价</text>
<text x="1351.5" y="133.2">成交量</text>
<text x="1460.5" y="133.2">成交额</text>
<text x="1351.5" y="151.7">量比</text>
<text x="1460.5" y="151.7">换手</text>
</g>
<g font-size="11.5" text-anchor="end">
<text x="1454.8" y="59.8" fill="#ee1c25">964.72</text>
<text x="1564.5" y="59.8" fill="#ee1c25">1.21%</text>
<text x="1454.8" y="78" fill="#ee1c25">11.53</text>
<text x="1564.5" y="78" fill="#222">2.80%</text>
<text x="1454.8" y="96" fill="#ee1c25">969.78</text>
<text x="1564.5" y="96" fill="#119a3d">943.08</text>
<text x="1454.8" y="114.4" fill="#119a3d">950.29</text>
<text x="1564.5" y="114.4" fill="#ee1c25">964.72</text>
<text x="1454.8" y="133.2" fill="#222">500.47万</text>
<text x="1564.5" y="133.2" fill="#222">56.66亿</text>
<text x="1454.8" y="151.7" fill="#222">1.29</text>
<text x="1564.5" y="151.7" fill="#222">-</text>
</g>
<text x="1350" y="171.8" font-size="11.5" fill="#444">涨跌分布</text>
<rect x="1350" y="175.9" width="144.6" height="8.3" fill="#e81010"/>
<rect x="1494.6" y="175.9" width="9.7" height="8.3" fill="#2a2a2a"/>
<rect x="1504.3" y="175.9" width="62.5" height="8.3" fill="#168a3a"/>
<g font-size="11.5">
<text x="1350" y="197.3" fill="#444">上涨</text>
<text x="1416" y="197.3" fill="#ee1c25" text-anchor="end">14</text>
<text x="1425" y="197.3" fill="#444">平</text>
<text x="1489.7" y="197.3" fill="#119a3d" text-anchor="end">1</text>
<text x="1501.5" y="197.3" fill="#444">下跌</text>
<text x="1567" y="197.3" fill="#119a3d" text-anchor="end">6</text>
<text x="1458" y="218.8" fill="#555" text-anchor="middle">成分股</text>
</g>
<rect x="1348" y="222.8" width="220" height="19.3" fill="#f0f0f0"/>
<g font-size="11.5">
<text x="1356.5" y="237.2" fill="#666">名称</text>
<text x="1477.2" y="237.2" fill="#666" text-anchor="end">现价</text>
<text x="1546" y="237.2" fill="#222" text-anchor="end">涨幅</text>
</g>
<path d="M1549 228.5 V236.5 M1546.8 234.2 L1549 236.8 L1551.2 234.2" fill="none" stroke="#3a78e6" stroke-width="0.9"/>
<rect x="1348" y="242.1" width="220" height="19.3" fill="#d9e1fb"/>

<g font-size="12.2" fill="#222">
<text x="1355.4" y="256">九联科技</text>
<text x="1355.4" y="275" fill="#3c78e6">盛视科技</text>
<text x="1355.4" y="294">雷柏科技</text>
<text x="1355.4" y="313.1">当虹科技</text>
<text x="1355.4" y="332.1">信维通信</text>
<text x="1355.4" y="351.1" fill="#3c78e6">创耀科技</text>
<text x="1355.4" y="370.1">路畅科技</text>
<text x="1355.4" y="389.1">海能达</text>
<text x="1355.4" y="408.2">麦捷科技</text>
<text x="1355.4" y="427.2">四维图新</text>
<text x="1355.4" y="446.2" fill="#3c78e6">数字认证</text>
<text x="1355.4" y="465.2" fill="#3c78e6">乐鑫科技</text>
<text x="1355.4" y="484.2">国科微</text>
<text x="1355.4" y="503.3">高鸿股份</text>
<text x="1355.4" y="522.3">数码视讯</text>
<text x="1355.4" y="541.3">汇顶科技</text>
<text x="1355.4" y="560.3">鸿泉物联</text>
<text x="1355.4" y="579.3">博通集成</text>
<text x="1355.4" y="598.4">奇安信-U</text>
<text x="1355.4" y="617.4">艾为电子</text>
<text x="1355.4" y="636.4">荣联科技</text>
</g>
<g font-size="12.5" text-anchor="end" fill="#ee1c25">
<text x="1477.2" y="256">10.53</text><text x="1551.8" y="256">9.80%</text>
<text x="1477.2" y="275">30.13</text><text x="1551.8" y="275">4.44%</text>
<text x="1477.2" y="294">15.67</text><text x="1551.8" y="294">3.09%</text>
<text x="1477.2" y="313.1">31.53</text><text x="1551.8" y="313.1">3.04%</text>
<text x="1477.2" y="332.1">17.52</text><text x="1551.8" y="332.1">2.28%</text>
<text x="1477.2" y="351.1">85.56</text><text x="1551.8" y="351.1">2.27%</text>
<text x="1477.2" y="370.1">33.18</text><text x="1551.8" y="370.1">1.94%</text>
<text x="1477.2" y="389.1">6.03</text><text x="1551.8" y="389.1">1.86%</text>
<text x="1477.2" y="408.2">8.63</text><text x="1551.8" y="408.2">1.41%</text>
<text x="1477.2" y="427.2">10.17</text><text x="1551.8" y="427.2">0.99%</text>
<text x="1477.2" y="446.2">30.16</text><text x="1551.8" y="446.2">0.97%</text>
<text x="1477.2" y="465.2">103.97</text><text x="1551.8" y="465.2">0.88%</text>
<text x="1477.2" y="484.2">73.98</text><text x="1551.8" y="484.2">0.37%</text>
<text x="1477.2" y="503.3">6.26</text><text x="1551.8" y="503.3">0.16%</text>
</g>
<g font-size="12.5" text-anchor="end" fill="#222">
<text x="1477.2" y="522.3">6.03</text><text x="1551.8" y="522.3">0.00%</text>
</g>
<g font-size="12.5" text-anchor="end" fill="#119a3d">
<text x="1477.2" y="541.3">61.61</text><text x="1551.8" y="541.3">-0.36%</text>
<text x="1477.2" y="560.3">24.24</text><text x="1551.8" y="560.3">-0.98%</text>
<text x="1477.2" y="579.3">27.40</text><text x="1551.8" y="579.3">-1.08%</text>
<text x="1477.2" y="598.4">52.02</text><text x="1551.8" y="598.4">-1.08%</text>
<text x="1477.2" y="617.4">68.59</text><text x="1551.8" y="617.4">-1.35%</text>
<text x="1477.2" y="636.4">8.93</text><text x="1551.8" y="636.4">-3.25%</text>
</g>
</svg>
</body></html>
